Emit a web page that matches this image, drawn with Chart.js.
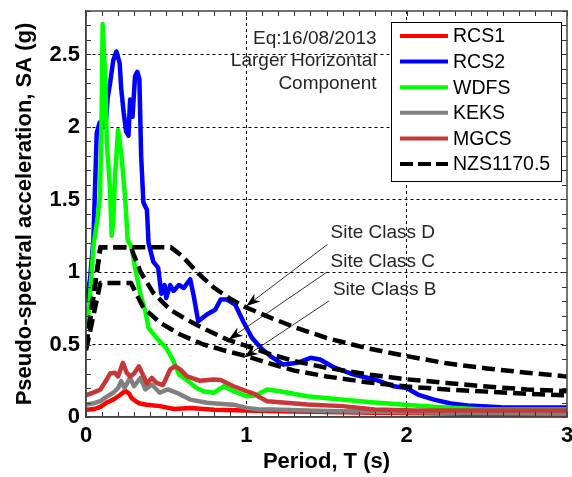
<!DOCTYPE html>
<html>
<head>
<meta charset="utf-8">
<script src="https://cdn.jsdelivr.net/npm/chart.js@4/dist/chart.umd.min.js"></script>
<style>
  html, body { margin: 0; padding: 0; background: #fff; }
</style>
</head>
<body>
<canvas id="spectraChart" width="572" height="477"></canvas>
<script>
// Pseudo-spectral acceleration, Eq 16/08/2013
const xTicks = [0, 1, 2, 3];
const yTicks = [0, 0.5, 1, 1.5, 2, 2.5];
const minorStep = 0.1;

// [period T (s), SA (g)]
const rcs1 = [[0, 0.05], [0.05, 0.055], [0.09, 0.07], [0.13, 0.1], [0.17, 0.12], [0.21, 0.15],
    [0.245, 0.18], [0.27, 0.16], [0.285, 0.13], [0.31, 0.11], [0.33, 0.095], [0.38, 0.085],
    [0.46, 0.075], [0.55, 0.055], [0.65, 0.062], [0.8, 0.05], [1.0, 0.045], [1.2, 0.04],
    [1.5, 0.035], [1.8, 0.03], [2.1, 0.025], [2.5, 0.02], [3.0, 0.018]];

const rcs2 = [[0, 0.79], [0.025, 0.95], [0.046, 1.22], [0.056, 1.57], [0.067, 1.96], [0.085, 2.03],
    [0.11, 2.0], [0.125, 2.05], [0.135, 2.2], [0.15, 2.3], [0.17, 2.46], [0.19, 2.52], [0.21, 2.44],
    [0.22, 2.26], [0.235, 2.1], [0.25, 1.97], [0.265, 1.94], [0.275, 2.19], [0.29, 2.07], [0.306, 2.35],
    [0.32, 2.38], [0.333, 2.33], [0.344, 1.8], [0.358, 1.48], [0.38, 1.43], [0.39, 1.2], [0.42, 1.07],
    [0.45, 1.03], [0.47, 0.85], [0.49, 0.91], [0.5, 0.82], [0.525, 0.91], [0.546, 0.87], [0.58, 0.91],
    [0.61, 0.89], [0.65, 0.95], [0.67, 0.845], [0.7, 0.66], [0.754, 0.707], [0.806, 0.74], [0.84, 0.81],
    [0.88, 0.81], [0.93, 0.776], [0.98, 0.66], [1.035, 0.546], [1.09, 0.477], [1.15, 0.42], [1.23, 0.362],
    [1.32, 0.374], [1.4, 0.408], [1.46, 0.397], [1.55, 0.34], [1.67, 0.293], [1.8, 0.259], [1.92, 0.212],
    [2.0, 0.2], [2.07, 0.155], [2.17, 0.12], [2.275, 0.093], [2.38, 0.08], [2.59, 0.068], [2.8, 0.065],
    [3.0, 0.065]];

const wdfs = [[0, 0.62], [0.02, 0.75], [0.046, 1.18], [0.07, 1.35], [0.0875, 1.52], [0.098, 2.12],
    [0.104, 2.71], [0.112, 2.5], [0.12, 2.35], [0.13, 1.89], [0.14, 1.73], [0.15, 1.57], [0.16, 1.25],
    [0.17, 1.35], [0.18, 1.64], [0.2, 1.98], [0.22, 1.82], [0.245, 1.5], [0.26, 1.22], [0.285, 1.17],
    [0.306, 1.03], [0.34, 0.845], [0.37, 0.73], [0.39, 0.615], [0.44, 0.546], [0.5, 0.477], [0.546, 0.385],
    [0.58, 0.293], [0.62, 0.26], [0.65, 0.236], [0.69, 0.2], [0.733, 0.178], [0.796, 0.167], [0.86, 0.212],
    [0.92, 0.178], [1.0, 0.143], [1.06, 0.15], [1.13, 0.19], [1.21, 0.178], [1.38, 0.143], [1.59, 0.12],
    [1.8, 0.1], [2.05, 0.08], [2.17, 0.07], [2.48, 0.052], [3.0, 0.052]];

const keks = [[0, 0.086], [0.05, 0.095], [0.09, 0.11], [0.13, 0.14], [0.17, 0.167], [0.2, 0.2],
    [0.22, 0.247], [0.24, 0.2], [0.275, 0.27], [0.3, 0.212], [0.34, 0.27], [0.37, 0.19], [0.41, 0.224],
    [0.46, 0.167], [0.51, 0.19], [0.567, 0.167], [0.65, 0.12], [0.754, 0.098], [0.85, 0.09], [0.92, 0.085],
    [1.0, 0.063], [1.08, 0.052], [1.17, 0.052], [1.38, 0.045], [1.6, 0.04], [1.9, 0.035], [2.3, 0.03],
    [2.7, 0.025], [3.0, 0.022]];

const mgcs = [[0, 0.15], [0.05, 0.17], [0.09, 0.19], [0.13, 0.26], [0.15, 0.3], [0.18, 0.305],
    [0.2, 0.28], [0.23, 0.374], [0.254, 0.305], [0.275, 0.28], [0.3, 0.3], [0.33, 0.35], [0.36, 0.28],
    [0.38, 0.23], [0.41, 0.27], [0.44, 0.236], [0.48, 0.22], [0.525, 0.328], [0.556, 0.35], [0.5875, 0.328],
    [0.63, 0.28], [0.71, 0.25], [0.796, 0.259], [0.84, 0.255], [0.92, 0.212], [1.0, 0.178], [1.05, 0.16],
    [1.09, 0.132], [1.13, 0.109], [1.38, 0.086], [1.6, 0.075], [1.8, 0.052], [2.05, 0.045], [2.5, 0.045],
    [3.0, 0.045]];

// NZS1170.5 design spectra
const nzsD = [[0, 0.48], [0.09, 1.17], [0.53, 1.17], [0.6, 1.11], [0.7, 0.99], [0.8, 0.89], [0.9, 0.815],
    [1.0, 0.755], [1.15, 0.685], [1.3, 0.62], [1.5, 0.545], [1.75, 0.475], [2.0, 0.42], [2.25, 0.37],
    [2.5, 0.335], [2.75, 0.305], [3.0, 0.28]];
const nzsC = [[0, 0.48], [0.09, 1.17], [0.28, 1.17], [0.34, 1.0], [0.42, 0.856], [0.525, 0.74],
    [0.63, 0.67], [0.754, 0.6], [0.88, 0.534], [1.0, 0.49], [1.13, 0.44], [1.3, 0.385], [1.5, 0.34],
    [1.75, 0.295], [2.0, 0.26], [2.25, 0.235], [2.5, 0.21], [2.75, 0.19], [3.0, 0.178]];
const nzsB = [[0, 0.46], [0.09, 0.925], [0.28, 0.925], [0.358, 0.753], [0.4625, 0.65], [0.5875, 0.569],
    [0.733, 0.5], [0.879, 0.454], [1.0, 0.42], [1.13, 0.374], [1.3, 0.32], [1.5, 0.28], [1.75, 0.24],
    [2.0, 0.21], [2.25, 0.19], [2.5, 0.175], [2.75, 0.16], [3.0, 0.15]];

const seriesNames = ["RCS1", "RCS2", "WDFS", "KEKS", "MGCS", "NZS1170.5"];
const seriesColors = ["#ff0000", "#0000ff", "#00ff00", "#808080", "#c83737", "#000000"];
const eqNote = ["Eq:16/08/2013", "Larger Horizontal", "Component"];
const siteClassNotes = [
    { text: "Site Class D", at: [1.525, 1.272], from: [1.506, 1.19], to: [1.0, 0.765] },
    { text: "Site Class C", at: [1.525, 1.074], from: [1.504, 1.0], to: [0.89, 0.535] },
    { text: "Site Class B", at: [1.54, 0.879], from: [1.515, 0.8], to: [0.985, 0.41] },
];

const FONT = "'Liberation Sans', Arial, sans-serif";

function toXY(pairs) {
    return pairs.map(([x, y]) => ({ x, y }));
}

function series(i, data, order) {
    return {
        label: seriesNames[i],
        data: toXY(data),
        borderColor: seriesColors[i],
        borderWidth: 4.5,
        order: order,
    };
}

function nzs(data) {
    return {
        label: "NZS1170.5",
        data: toXY(data),
        borderColor: "#000",
        borderWidth: 4.5,
        borderDash: [13, 6],
        borderCapStyle: "butt",
        order: 0,
    };
}

// frame, minor ticks, legend, notes and arrows
const extras = {
    id: "extras",
    afterDraw(chart) {
        const { ctx, chartArea: a, scales: { x, y } } = chart;
        ctx.save();

        // minor ticks on all four sides
        ctx.strokeStyle = "#333";
        ctx.lineWidth = 1;
        ctx.beginPath();
        for (let v = 0; v <= x.max + 1e-9; v += minorStep) {
            const px = Math.round(x.getPixelForValue(v)) + 0.5;
            ctx.moveTo(px, a.bottom); ctx.lineTo(px, a.bottom - 5);
            ctx.moveTo(px, a.top); ctx.lineTo(px, a.top + 5);
        }
        for (let v = 0; v <= y.max + 1e-9; v += minorStep) {
            const py = Math.round(y.getPixelForValue(v)) + 0.5;
            ctx.moveTo(a.left, py); ctx.lineTo(a.left + 5, py);
            ctx.moveTo(a.right, py); ctx.lineTo(a.right - 5, py);
        }
        ctx.stroke();

        ctx.strokeStyle = "#444";
        ctx.lineWidth = 1.5;
        ctx.strokeRect(a.left, a.top, a.right - a.left, a.bottom - a.top);

        // legend box
        const bx = a.right - 176, by = a.top + 11, bw = 170, bh = 159;
        ctx.fillStyle = "#fff";
        ctx.fillRect(bx, by, bw, bh);
        ctx.strokeStyle = "#000";
        ctx.lineWidth = 1;
        ctx.strokeRect(bx + 0.5, by + 0.5, bw, bh);
        ctx.font = "19.5px " + FONT;
        ctx.textBaseline = "middle";
        ctx.textAlign = "left";
        seriesNames.forEach((name, i) => {
            const ly = by + 14 + i * 25.6;
            ctx.strokeStyle = seriesColors[i];
            ctx.lineWidth = 4;
            ctx.setLineDash(i === 5 ? [13, 5] : []);
            ctx.beginPath();
            ctx.moveTo(bx + 9, ly);
            ctx.lineTo(bx + 57, ly);
            ctx.stroke();
            ctx.setLineDash([]);
            ctx.fillStyle = "#000";
            ctx.fillText(name, bx + 62, ly + 1);
        });

        // event note
        ctx.fillStyle = "#262626";
        ctx.font = "19px " + FONT;
        ctx.textAlign = "right";
        const noteX = x.getPixelForValue(1.8125);
        eqNote.forEach((line, i) => {
            ctx.fillText(line, noteX, y.getPixelForValue(2.61 - i * 0.155));
        });

        // site class labels with arrows
        ctx.textAlign = "left";
        siteClassNotes.forEach((n) => {
            ctx.fillStyle = "#262626";
            ctx.fillText(n.text, x.getPixelForValue(n.at[0]), y.getPixelForValue(n.at[1]));
            const x0 = x.getPixelForValue(n.from[0]), y0 = y.getPixelForValue(n.from[1]);
            const x1 = x.getPixelForValue(n.to[0]), y1 = y.getPixelForValue(n.to[1]);
            const ang = Math.atan2(y1 - y0, x1 - x0);
            ctx.strokeStyle = "#000";
            ctx.lineWidth = 0.8;
            ctx.beginPath();
            ctx.moveTo(x0, y0);
            ctx.lineTo(x1, y1);
            ctx.stroke();
            const len = 14, half = 5;
            const bxp = x1 - len * Math.cos(ang), byp = y1 - len * Math.sin(ang);
            const ix = x1 - 10 * Math.cos(ang), iy = y1 - 10 * Math.sin(ang);
            ctx.fillStyle = "#000";
            ctx.beginPath();
            ctx.moveTo(x1, y1);
            ctx.lineTo(bxp - half * Math.sin(ang), byp + half * Math.cos(ang));
            ctx.lineTo(ix, iy);
            ctx.lineTo(bxp + half * Math.sin(ang), byp - half * Math.cos(ang));
            ctx.closePath();
            ctx.fill();
        });

        ctx.restore();
    },
};

const edgeTransparent = (lo, hi) => (c) =>
    c.tick && (c.tick.value === lo || c.tick.value === hi) ? "rgba(0,0,0,0)" : "#000";

new Chart(document.getElementById("spectraChart").getContext("2d"), {
    type: "line",
    data: {
        datasets: [
            series(0, rcs1, 5),
            series(1, rcs2, 4),
            series(2, wdfs, 3),
            series(3, keks, 2),
            series(4, mgcs, 1),
            nzs(nzsD),
            nzs(nzsC),
            nzs(nzsB),
        ],
    },
    options: {
        responsive: false,
        animation: false,
        devicePixelRatio: 1,
        layout: { padding: { top: 11, right: 5, left: 0, bottom: 0 } },
        elements: {
            point: { radius: 0 },
            line: { tension: 0, fill: false, borderJoinStyle: "round" },
        },
        plugins: {
            legend: { display: false },
            tooltip: { enabled: false },
        },
        scales: {
            x: {
                type: "linear",
                min: 0,
                max: 3,
                afterBuildTicks: (axis) => { axis.ticks = xTicks.map((v) => ({ value: v })); },
                afterFit: (axis) => {
                    axis.height = 60;
                    axis.paddingLeft = 0;
                    axis.paddingRight = 0;
                },
                grid: { color: edgeTransparent(0, 3), lineWidth: 1, drawTicks: false },
                border: { color: "#444", width: 1.5, dash: [3, 3] },
                ticks: {
                    color: "#000",
                    padding: 6,
                    maxRotation: 0,
                    font: { family: FONT, size: 22, weight: "bold" },
                    callback: (v) => String(v),
                },
                title: {
                    display: true,
                    text: "Period, T (s)",
                    color: "#000",
                    font: { family: FONT, size: 22, weight: "bold" },
                    padding: { top: 0, bottom: 2 },
                },
            },
            y: {
                type: "linear",
                min: 0,
                max: 2.8,
                afterBuildTicks: (axis) => { axis.ticks = yTicks.map((v) => ({ value: v })); },
                afterFit: (axis) => {
                    axis.width = 86;
                    axis.paddingTop = 0;
                    axis.paddingBottom = 0;
                },
                grid: { color: edgeTransparent(0, 2.8), lineWidth: 1, drawTicks: false },
                border: { color: "#444", width: 1.5, dash: [3, 3] },
                ticks: {
                    color: "#000",
                    padding: 6,
                    font: { family: FONT, size: 22, weight: "bold" },
                    callback: (v) => String(v),
                },
                title: {
                    display: true,
                    text: "Pseudo-spectral acceleration, SA (g)",
                    color: "#000",
                    font: { family: FONT, size: 22, weight: "bold" },
                    padding: { top: 12, bottom: 0 },
                },
            },
        },
    },
    plugins: [extras],
});
</script>
</body>
</html>
